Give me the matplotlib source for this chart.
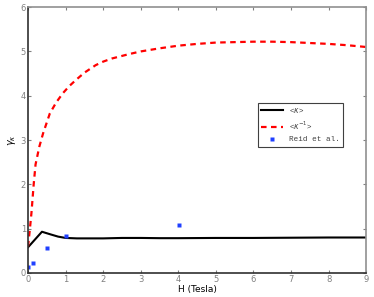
import numpy as np
import matplotlib.pyplot as plt

h_inv = [0, 0.05, 0.09, 0.15, 0.2, 0.3, 0.4, 0.58, 0.75, 0.93, 1.1, 1.28, 1.5, 1.8, 2.0, 2.23, 2.69, 3.0, 3.5, 4.0, 4.5, 5.0, 5.5, 6.0, 6.5, 7.0, 7.5, 8.0, 8.5, 9.0]
k_inv = [0.6, 1.0, 1.35, 2.0, 2.45, 2.85, 3.15, 3.6, 3.85, 4.06, 4.22, 4.36, 4.52, 4.69, 4.77, 4.84, 4.94, 5.0, 5.07, 5.13, 5.17, 5.2, 5.21, 5.22, 5.22, 5.21, 5.19, 5.17, 5.14, 5.1]

h_k = [0, 0.37, 0.6, 0.8, 1.0, 1.3, 1.6, 2.0, 2.5, 3.0, 3.5, 4.0, 5.0, 6.0, 7.0, 8.0, 9.0]
k_mean = [0.58, 0.93, 0.87, 0.82, 0.79, 0.78, 0.78, 0.78, 0.79, 0.79, 0.785, 0.785, 0.79, 0.79, 0.795, 0.80, 0.80]

h_reid = [0.0, 0.13, 0.5, 1.0, 4.03]
k_reid = [0.13, 0.22, 0.56, 0.84, 1.08]

fig = plt.figure(figsize=(3.74, 2.97), dpi=100)
ax = fig.add_axes([0.075, 0.081, 0.904, 0.895])

ax.plot(h_k, k_mean, color='black', lw=1.5, label=r'<$\kappa$>')
ax.plot(h_inv, k_inv, color='red', lw=1.6, ls=(0, (2.5, 2)), label=r'<$\kappa^{-1}$>')
ax.plot(h_reid, k_reid, 's', color='#2040ff', ms=3.5, mec='none', label='Reid et al.')

ax.set_xlim(0, 9)
ax.set_ylim(0, 6)
ax.set_xticks(range(10))
ax.set_yticks(range(7))
ax.tick_params(direction='in', length=2.5, labelsize=6, colors='#808080',
               top=True, right=True, pad=1.5)
for s in ax.spines.values():
    s.set_color('#909090')
    s.set_linewidth(1.2)
ax.spines['left'].set_color('#303030')
ax.spines['bottom'].set_color('#303030')

ax.set_xlabel('H (Tesla)', fontsize=6.5, labelpad=1)
ax.set_ylabel(r'$\gamma_\kappa$', fontsize=7, labelpad=2)

leg = ax.legend(loc='upper left', bbox_to_anchor=(0.668, 0.655),
                prop={'family': 'Liberation Mono', 'size': 5.5},
                fancybox=False, edgecolor='#404040', framealpha=1,
                handlelength=2.8, borderpad=0.45, labelspacing=0.55)
leg.get_frame().set_linewidth(0.8)
for t in leg.get_texts():
    t.set_color('#404040')

fig.savefig('out.png', dpi=100)
